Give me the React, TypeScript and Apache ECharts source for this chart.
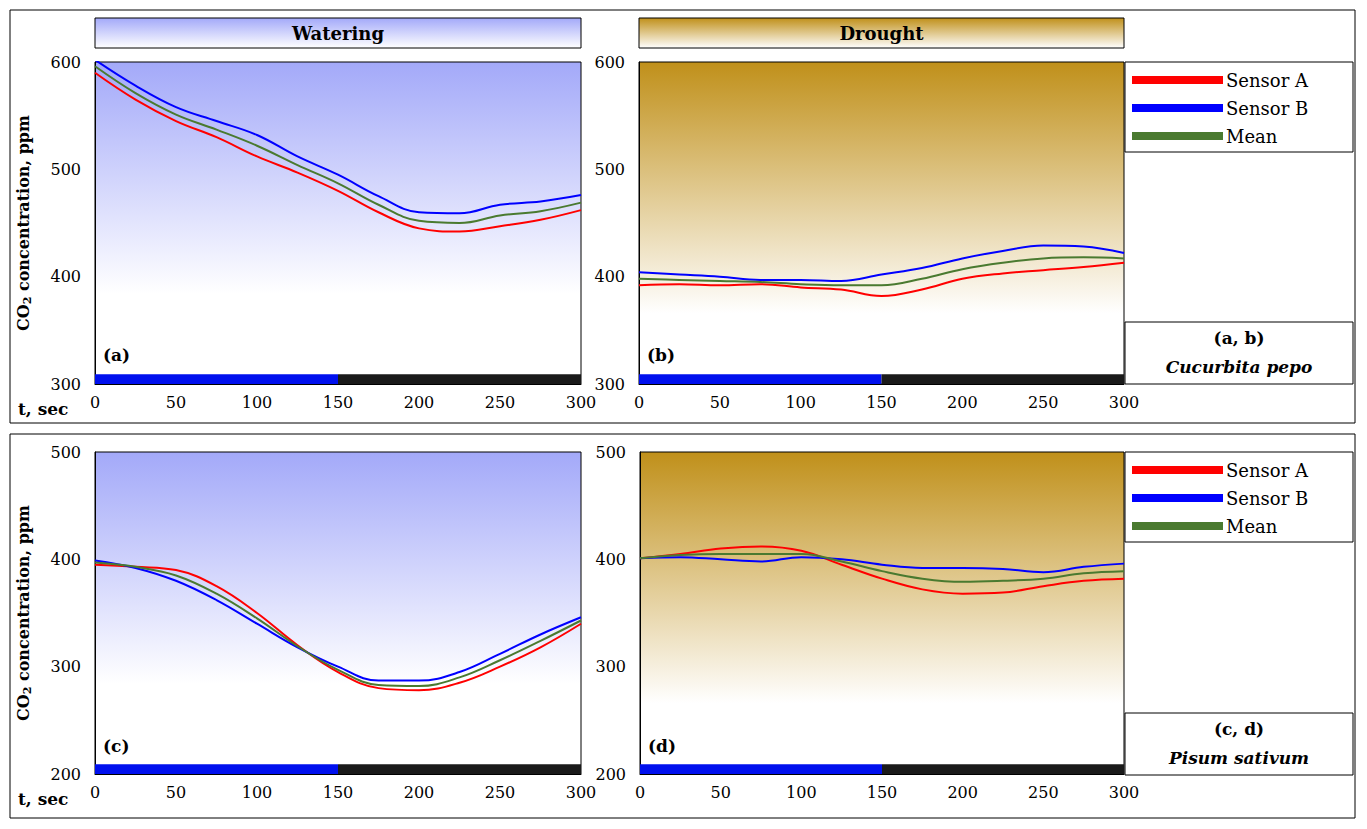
import { useEffect, useRef } from 'react';
import * as echarts from 'echarts';

const times = [0, 25, 50, 75, 100, 125, 150, 175, 200, 225, 250, 275, 300];

const aSensorA = [590, 565, 545, 530, 512, 497, 480, 460, 445, 442, 447, 453, 462];
const aSensorB = [602, 578, 558, 545, 532, 512, 495, 475, 460, 459, 467, 470, 476];
const aMean = [596, 571, 551, 537, 522, 504, 487, 467, 452, 450, 457, 461, 469];

const bSensorA = [392, 393, 392, 393, 390, 388, 382, 388, 398, 403, 406, 409, 413];
const bSensorB = [404, 402, 400, 397, 397, 396, 402, 408, 417, 424, 429, 428, 422];
const bMean = [398, 397, 396, 395, 393, 392, 392, 398, 407, 413, 417, 418, 417];

const cSensorA = [395, 393, 390, 375, 350, 320, 295, 280, 278, 285, 300, 318, 340];
const cSensorB = [399, 392, 380, 362, 340, 318, 300, 287, 287, 295, 312, 330, 346];
const cMean = [397, 393, 385, 368, 345, 319, 297, 283, 282, 290, 306, 324, 343];

const dSensorA = [401, 405, 410, 412, 408, 395, 382, 372, 368, 369, 375, 380, 382];
const dSensorB = [401, 402, 400, 398, 402, 400, 395, 392, 392, 391, 388, 393, 396];
const dMean = [401, 404, 405, 405, 405, 398, 389, 382, 379, 380, 382, 387, 389];

const xTicks = [0, 50, 100, 150, 200, 250, 300];

const FONT = 'DejaVu Serif';
const colors = { a: '#ff0000', b: '#0000ff', m: '#4a7a30' };

const pair = (t: number[], v: number[]) => t.map((x, i) => [x, v[i]]);

const waterBg = new echarts.graphic.LinearGradient(0, 0, 0, 1, [
  { offset: 0, color: '#a3a9f9' },
  { offset: 0.72, color: '#ffffff' },
  { offset: 1, color: '#ffffff' },
]);
const droughtBg = new echarts.graphic.LinearGradient(0, 0, 0, 1, [
  { offset: 0, color: '#c0901a' },
  { offset: 0.78, color: '#ffffff' },
  { offset: 1, color: '#ffffff' },
]);

export default function App() {
  const ref = useRef<HTMLDivElement>(null);

  useEffect(() => {
    if (!ref.current) return;
    const chart = echarts.init(ref.current, null, { renderer: 'svg' });

    const grids = [
      { left: 95, top: 62, width: 486, height: 322, bg: waterBg, min: 300, max: 600 },
      { left: 639, top: 62, width: 485, height: 322, bg: droughtBg, min: 300, max: 600 },
      { left: 95, top: 452, width: 486, height: 322, bg: waterBg, min: 200, max: 500 },
      { left: 640, top: 452, width: 484, height: 322, bg: droughtBg, min: 200, max: 500 },
    ];
    const data = [
      [aSensorA, aSensorB, aMean],
      [bSensorA, bSensorB, bMean],
      [cSensorA, cSensorB, cMean],
      [dSensorA, dSensorB, dMean],
    ];
    const names = ['Sensor A', 'Sensor B', 'Mean'];
    const cols = [colors.a, colors.b, colors.m];

    const series: any[] = [];
    data.forEach((set, gi) => {
      const g = grids[gi];
      set.forEach((vals, si) => {
        const s: any = {
          name: names[si],
          type: 'line',
          xAxisIndex: gi,
          yAxisIndex: gi,
          data: pair(times, vals),
          smooth: 0.4,
          showSymbol: false,
          lineStyle: { color: cols[si], width: 2 },
          itemStyle: { color: cols[si] },
          z: 3 + (si === 2 ? 1 : 0),
        };
        if (si === 0) {
          s.markArea = {
            silent: true,
            data: [
              [{ xAxis: 0, yAxis: g.min, itemStyle: { color: '#0010ee', opacity: 1 } }, { xAxis: 150, yAxis: g.min + 9 }],
              [{ xAxis: 150, yAxis: g.min, itemStyle: { color: '#1a1a1a', opacity: 1 } }, { xAxis: 300, yAxis: g.min + 9 }],
            ],
          };
        }
        series.push(s);
      });
    });

    const text = (x: number, y: number, t: string, extra: any = {}) => ({
      type: 'text',
      left: x,
      top: y,
      style: { text: t, font: `bold 17px "${FONT}"`, fill: '#000', ...extra },
    });

    const titleBox = (x: number, w: number, fill: any, label: string) => ({
      type: 'group',
      children: [
        { type: 'rect', shape: { x, y: 18, width: w, height: 30 }, style: { fill, stroke: '#000', lineWidth: 1 } },
        { type: 'text', x: x + w / 2, y: 33, style: { text: label, font: `bold 18px "${FONT}"`, fill: '#000', align: 'center', verticalAlign: 'middle' } },
      ],
    });
    const titleGradW = new echarts.graphic.LinearGradient(0, 0, 0, 1, [
      { offset: 0, color: '#a3a9f9' },
      { offset: 1, color: '#ffffff' },
    ]);
    const titleGradD = new echarts.graphic.LinearGradient(0, 0, 0, 1, [
      { offset: 0, color: '#c0901a' },
      { offset: 1, color: '#ffffff' },
    ]);

    const box = (x: number, y: number, w: number, h: number) => ({
      type: 'rect',
      z: -1,
      shape: { x, y, width: w, height: h },
      style: { fill: 'none', stroke: '#000', lineWidth: 1 },
    });

    const species = (y: number, a: string, b: string) => [
      box(1125, y, 228, 62),
      { type: 'text', x: 1239, y: y + 16, style: { text: a, font: `bold 17px "${FONT}"`, fill: '#000', align: 'center', verticalAlign: 'middle' } },
      { type: 'text', x: 1239, y: y + 45, style: { text: b, font: `italic bold 17px "${FONT}"`, fill: '#000', align: 'center', verticalAlign: 'middle' } },
    ];

    const legend = (top: number) => ({
      top, left: 1127, orient: 'vertical', itemWidth: 91, itemHeight: 8, itemGap: 10, icon: 'rect',
      data: names, textStyle: { fontSize: 18, fontFamily: FONT, color: '#000', padding: [8, 0, 0, -2] },
      selectedMode: false,
    });

    const option: any = {
      animation: false,
      backgroundColor: '#fff',
      textStyle: { fontFamily: FONT },
      grid: grids.map((g) => ({
        left: g.left, top: g.top, width: g.width, height: g.height,
        show: true, backgroundColor: g.bg, borderColor: '#000', borderWidth: 1,
      })),
      xAxis: grids.map((_, i) => ({
        type: 'value', gridIndex: i, min: 0, max: 300, interval: 50,
        axisLine: { show: true, lineStyle: { color: '#000' } },
        axisTick: { show: false },
        splitLine: { show: false },
        axisLabel: { color: '#000', fontSize: 16, fontFamily: FONT, margin: 10, customValues: xTicks },
      })),
      yAxis: grids.map((g, i) => ({
        type: 'value', gridIndex: i, min: g.min, max: g.max, interval: 100,
        axisLine: { show: true, lineStyle: { color: '#000' } },
        axisTick: { show: false },
        splitLine: { show: false },
        axisLabel: { color: '#000', fontSize: 16, fontFamily: FONT, margin: 14 },
        name: i % 2 === 0 ? '{a|CO}{s|2}{a| concentration, ppm}' : '',
        nameLocation: 'middle',
        nameGap: 62,
        nameTextStyle: {
          rich: {
            a: { fontSize: 16, fontWeight: 'bold', fontFamily: FONT, color: '#000' },
            s: { fontSize: 11, fontWeight: 'bold', fontFamily: FONT, color: '#000', padding: [8, 0, 0, 0] },
          },
        },
      })),
      legend: [legend(66), legend(456)],
      graphic: [
        box(10, 10, 1345, 413),
        box(10, 434, 1345, 384),
        titleBox(95, 486, titleGradW, 'Watering'),
        titleBox(639, 485, titleGradD, 'Drought'),
        box(1125, 62, 228, 90),
        box(1125, 452, 228, 90),
        ...species(322, '(a, b)', 'Cucurbita pepo'),
        ...species(713, '(c, d)', 'Pisum sativum'),
        text(18, 400, 't, sec'),
        text(18, 790, 't, sec'),
        text(103, 346, '(a)'),
        text(647, 346, '(b)'),
        text(103, 737, '(c)'),
        text(648, 737, '(d)'),
      ],
      series,
    };

    chart.setOption(option);
    return () => chart.dispose();
  }, []);

  return (
    <div
      ref={ref}
      style={{ position: 'fixed', left: 0, top: 0, width: 1367, height: 829 }}
    />
  );
}
